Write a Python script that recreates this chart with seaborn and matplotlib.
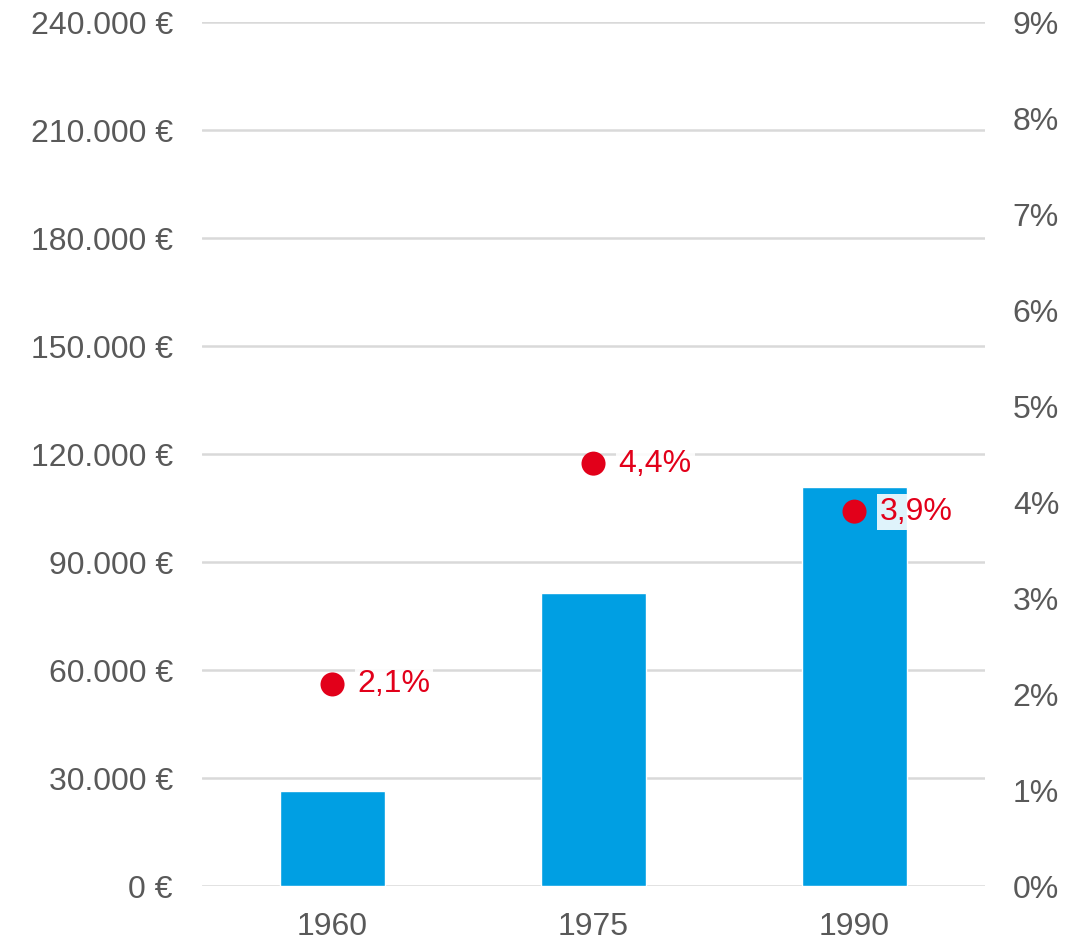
import pandas as pd
import numpy as np
import matplotlib.pyplot as plt
import seaborn as sns

years = ['1960', '1975', '1990']
income = [26300, 81300, 110800]
rate = [2.1, 4.4, 3.9]
rate_labels = ['2,1%', '4,4%', '3,9%']

sns.set_theme(style='white')
plt.rcParams['font.family'] = ['Liberation Sans', 'DejaVu Sans']

df = pd.DataFrame({'year': years, 'income': income, 'rate': rate})

fig = plt.figure(figsize=(10.81, 9.41), dpi=100)
ax = fig.add_axes([0.1869, 0.0584, 0.7243, 0.9182])

sns.barplot(data=df, x='year', y='income', color='#009FE3', width=0.4,
            saturation=1, ax=ax, zorder=2)
ax.set_xlim(-0.5, 2.5)
ax.set_ylim(0, 240000)
yt = np.arange(0, 240001, 30000)
ax.set_yticks(yt)
ax.set_yticklabels([f'{v:,.0f} €'.replace(',', '.') for v in yt])
ax.yaxis.grid(True, color='#D9D9D9', linewidth=1.8, zorder=0)
ax.set_axisbelow(True)
ax.set_xlabel('')
ax.set_ylabel('')
for s in ax.spines.values():
    s.set_visible(False)
ax.tick_params(axis='y', length=0, labelsize=23, labelcolor='#595959', pad=21)
ax.tick_params(axis='x', length=0, labelsize=23, labelcolor='#595959', pad=19)

ax2 = ax.twinx()
sns.scatterplot(data=df, x='year', y='rate', color='#E2001A', s=300,
                edgecolor='none', ax=ax2, zorder=5)
ax2.set_ylim(0, 9)
ax2.set_yticks(range(0, 10))
ax2.set_yticklabels([f'{v}%' for v in range(0, 10)])
ax2.set_ylabel('')
ax2.set_xlabel('')
for s in ax2.spines.values():
    s.set_visible(False)
ax2.tick_params(axis='y', length=0, labelsize=23, labelcolor='#595959', pad=20)

for i, (r, lab) in enumerate(zip(rate, rate_labels)):
    t = ax2.annotate(lab, (i, r), xytext=(18, 0), textcoords='offset points',
                     ha='left', va='center', fontsize=23, color='#E2001A', zorder=6)
    t.set_bbox(dict(facecolor='white', alpha=0.88, edgecolor='none', pad=2))

fig.savefig('out.png', dpi=100)
